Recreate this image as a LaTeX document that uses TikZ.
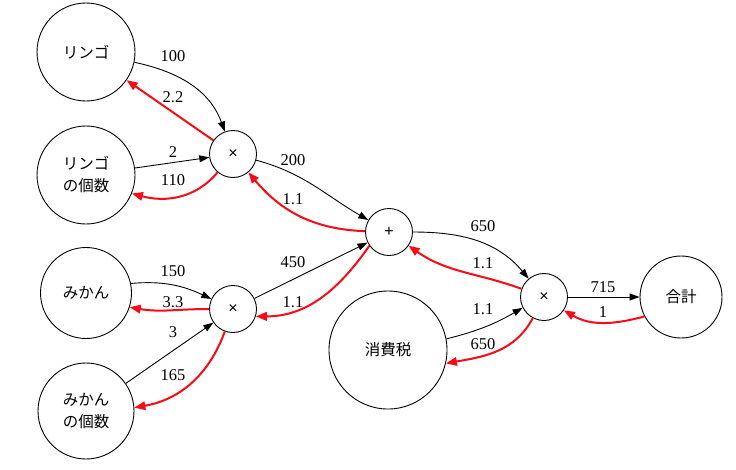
\documentclass[tikz,border=0pt]{standalone}
\usepackage{fontspec}
\setmainfont{Liberation Serif}
\newfontfamily\jp{Noto Sans CJK JP}
\newfontfamily\opfont{Liberation Sans}
\usetikzlibrary{arrows.meta}
\definecolor{bred}{RGB}{250,10,20}
\begin{document}
\begin{tikzpicture}[x=1pt,y=1pt,
  nd/.style={draw, circle, line width=0.9pt, inner sep=0pt, align=center,
    font=\jp\fontsize{15.5}{22}\selectfont},
  op/.style={draw, circle, line width=0.9pt, minimum size=47pt, inner sep=0pt,
    font=\opfont\fontsize{16}{18}\selectfont},
  fw/.style={line width=0.9pt, -{Triangle[length=10pt,width=7pt]}},
  bw/.style={bred, line width=2pt, -{Triangle[length=11pt,width=8.5pt]}},
  lb/.style={font=\fontsize{16.5}{18}\selectfont, inner sep=0pt}]
\useasboundingbox (0,0) rectangle (736,-469);
% nodes
\node[nd, minimum size=98pt] (ringo) at (86,-52) {リンゴ};
\node[nd, minimum size=98pt] (ringoN) at (86,-175) {リンゴ\\の個数};
\node[op] (m1) at (233,-154) {×};
\node[nd, minimum size=91pt] (mikan) at (86,-293) {みかん};
\node[nd, minimum size=96pt] (mikanN) at (86,-411) {みかん\\の個数};
\node[op] (m2) at (233,-309) {×};
\node[op] (plus) at (389,-232) {+};
\node[op] (m3) at (544,-297) {×};
\node[nd, minimum size=82pt] (total) at (681,-297) {合計};
\node[nd, minimum size=118pt] (tax) at (388,-350) {消費税};
% forward edges
\draw[fw] (ringo) to[out=-12, in=110] (m1);
\draw[fw] (ringoN) -- (m1);
\draw[fw] (m1) to[out=-15, in=150] (plus);
\draw[fw] (m2) -- (plus);
\draw[fw] (mikan.12) to[out=5, in=155] (m2);
\draw[fw] (mikanN) -- (m2);
\draw[fw] (plus) to[out=0, in=130] (m3);
\draw[fw] (tax) to[bend right=8] (m3);
\draw[fw] (m3) -- (total);
% backward edges
\draw[bw] (m1) -- (ringo);
\draw[bw] (m1) to[out=-130, in=-15] (ringoN.-22);
\draw[bw] (plus) to[out=178, in=-50] (m1);
\draw[bw] (plus.-145) to[out=-125, in=0] (m2.-18);
\draw[bw] (m2) to[out=180, in=-10] (mikan.-18);
\draw[bw] (m2) to[out=-110, in=10] (mikanN.4);
\draw[bw] (m3) to[out=160, in=-35] (plus);
\draw[bw] (m3) to[out=-118, in=10] (tax.-13);
\draw[bw] (total.-152) to[out=-165, in=-30] (m3.-34);
% labels
\node[lb] (l100) at (173,-56) {100};
\node[lb] (l22) at (173,-97) {2.2};
\node[lb] (l2) at (173,-152) {2};
\node[lb] (l110) at (173,-180) {110};
\node[lb] (l200) at (293,-160) {200};
\node[lb] (l11a) at (293,-199) {1.1};
\node[lb] (l450) at (293,-262) {450};
\node[lb] (l11b) at (293,-302) {1.1};
\node[lb] (l150) at (173,-271) {150};
\node[lb] (l33) at (173,-302) {3.3};
\node[lb] (l3) at (173,-332) {3};
\node[lb] (l165) at (173,-375) {165};
\node[lb] (l650a) at (483,-226) {650};
\node[lb] (l11c) at (483,-263) {1.1};
\node[lb] (l11d) at (483,-309) {1.1};
\node[lb] (l650b) at (483,-344) {650};
\node[lb] (l715) at (603,-287) {715};
\node[lb] (l1) at (603,-312) {1};
\end{tikzpicture}
\end{document}
